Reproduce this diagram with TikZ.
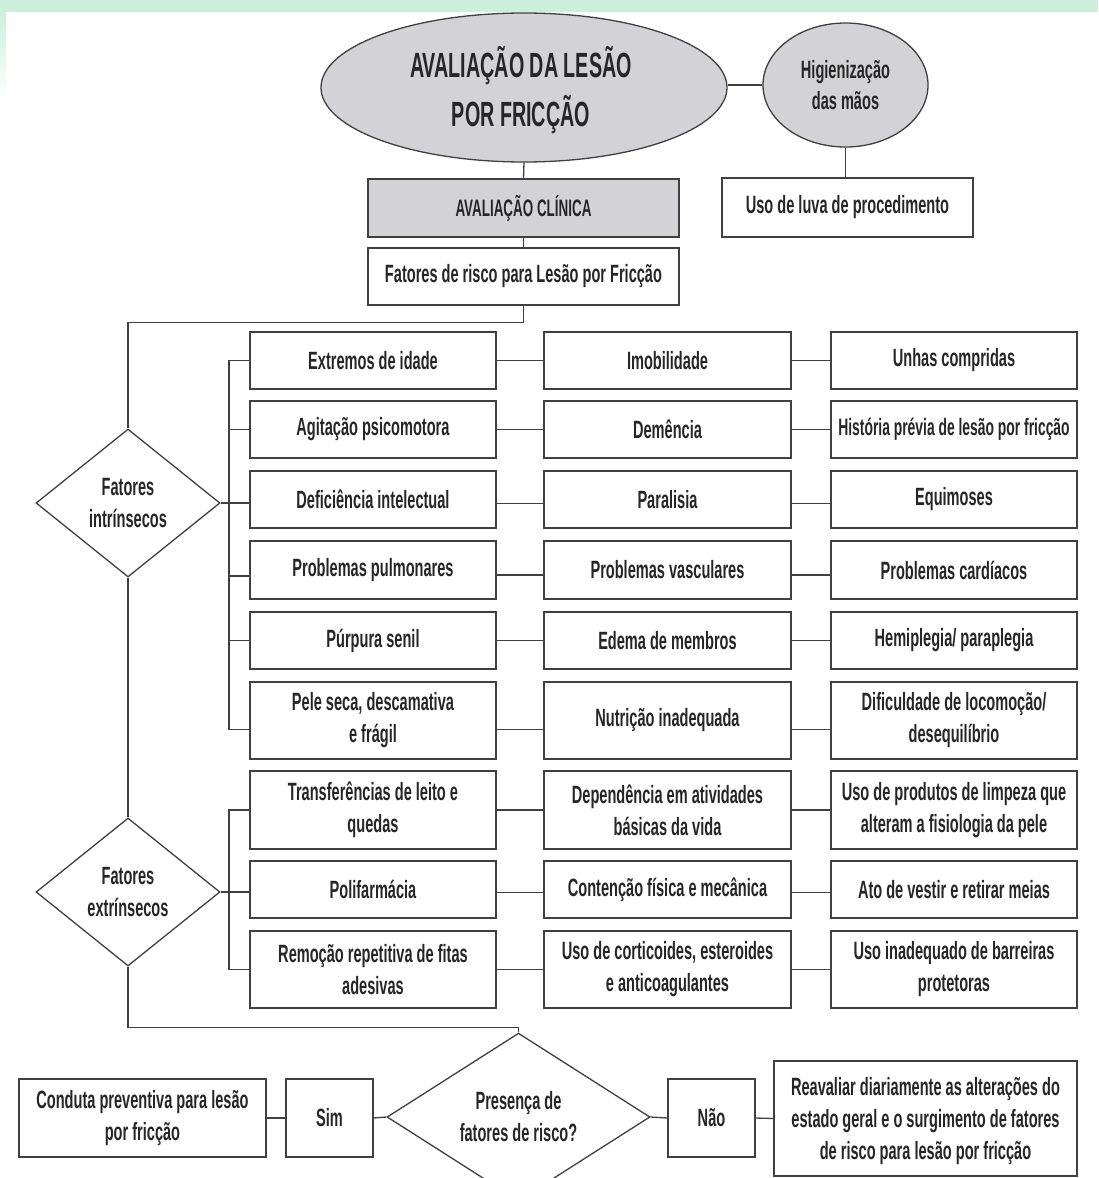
\documentclass[tikz,border=0pt]{standalone}
\usepackage{fontspec}
\setmainfont{Liberation Sans}[FakeStretch=0.583]
\newfontfamily\headfont{Liberation Sans}[FakeStretch=0.564]
\usetikzlibrary{shapes.geometric}
\definecolor{ink}{HTML}{262626}
\definecolor{edge}{HTML}{404040}
\definecolor{shade}{HTML}{D3D3D5}
\definecolor{mint}{HTML}{CCEFDC}

\begin{document}
\begin{tikzpicture}[x=1pt,y=-1pt,
  every node/.style={text=ink, font=\fontsize{25}{32}\selectfont\bfseries, align=center, inner sep=0pt},
  box/.style={draw=edge, line width=1.3pt, rectangle, fill=white},
  cell/.style={box, minimum width=246, minimum height=57},
  tallcell/.style={box, minimum width=246, minimum height=77},
  decision/.style={draw=edge, line width=1.3pt, diamond, fill=white},
  bubble/.style={draw=edge, line width=1.3pt, ellipse, fill=shade},
  link/.style={draw=edge, line width=1.3pt}
]
% page frame
\clip (0,0) rectangle (1098,1178);
\fill[white] (0,0) rectangle (1098,1178);
\fill[mint] (0,0) rectangle (1098,12);
\shade[top color=mint, bottom color=white] (0,12) rectangle (6,100);

% header
\node[bubble, minimum width=406, minimum height=149] (title) at (524,87.5) {};
\node[font=\headfont\fontsize{35}{49}\selectfont\bfseries] (titletext) at (521,90) {AVALIAÇÃO DA LESÃO\\POR FRICÇÃO};
\node[bubble, minimum width=165, minimum height=124, font=\fontsize{25}{31}\selectfont\bfseries] (hig) at (845.5,85) {Higienização\\das mãos};
\node[box, minimum width=251, minimum height=59] (luva) at (847.5,207.5) {Uso de luva de procedimento};
\node[box, fill=shade, minimum width=311, minimum height=58, font=\headfont\fontsize{23.8}{28}\selectfont\bfseries] (clinica) at (523.5,208) {AVALIAÇÃO CLÍNICA};
\node[box, minimum width=311, minimum height=57] (risco) at (523.5,276.5) {Fatores de risco para Lesão por Fricção};

% decisions
\node[decision, minimum width=184, minimum height=148] (intr) at (128,503) {Fatores\\intrínsecos};
\node[decision, minimum width=184, minimum height=148] (extr) at (128,892) {Fatores\\extrínsecos};
\node[decision, minimum width=263, minimum height=160] (pres) at (518.5,1117) {Presença de\\fatores de risco?};

% factor grid: column a
\node[cell] (a1) at (373,360.5) {Extremos de idade};
\node[cell] (a2) at (373,429.5) {Agitação psicomotora};
\node[cell] (a3) at (373,499.5) {Deficiência intelectual};
\node[cell, minimum height=58] (a4) at (373,570) {Problemas pulmonares};
\node[cell] (a5) at (373,640.5) {Púrpura senil};
\node[tallcell] (a6) at (373,720.5) {Pele seca, descamativa\\e frágil};
\node[tallcell, minimum height=78] (a7) at (373,810) {Transferências de leito e\\quedas};
\node[cell] (a8) at (373,889.5) {Polifarmácia};
\node[tallcell] (a9) at (373,969.5) {Remoção repetitiva de fitas\\adesivas};

% column b
\node[cell, minimum width=247] (b1) at (667.5,360.5) {Imobilidade};
\node[cell, minimum width=247] (b2) at (667.5,429.5) {Demência};
\node[cell, minimum width=247] (b3) at (667.5,499.5) {Paralisia};
\node[cell, minimum width=247, minimum height=58] (b4) at (667.5,570) {Problemas vasculares};
\node[cell, minimum width=247] (b5) at (667.5,640.5) {Edema de membros};
\node[tallcell, minimum width=247] (b6) at (667.5,720.5) {Nutrição inadequada};
\node[tallcell, minimum width=247, minimum height=78] (b7) at (667.5,810) {Dependência em atividades\\básicas da vida};
\node[cell, minimum width=247] (b8) at (667.5,889.5) {Contenção física e mecânica};
\node[tallcell, minimum width=247] (b9) at (667.5,969.5) {Uso de corticoides, esteroides\\e anticoagulantes};

% column c
\node[cell] (c1) at (954,360.5) {Unhas compridas};
\node[cell, font=\fontsize{23.8}{32}\selectfont\bfseries] (c2) at (954,429.5) {História prévia de lesão por fricção};
\node[cell] (c3) at (954,499.5) {Equimoses};
\node[cell, minimum height=58] (c4) at (954,570) {Problemas cardíacos};
\node[cell] (c5) at (954,640.5) {Hemiplegia/ paraplegia};
\node[tallcell] (c6) at (954,720.5) {Dificuldade de locomoção/\\desequilíbrio};
\node[tallcell, minimum height=78] (c7) at (954,810) {Uso de produtos de limpeza que\\alteram a fisiologia da pele};
\node[cell] (c8) at (954,889.5) {Ato de vestir e retirar meias};
\node[tallcell] (c9) at (954,969.5) {Uso inadequado de barreiras\\protetoras};

% outcome row
\node[box, minimum width=247, minimum height=78] (conduta) at (142.5,1118) {Conduta preventiva para lesão\\por fricção};
\node[box, minimum width=87, minimum height=78] (sim) at (329.5,1118) {Sim};
\node[box, minimum width=87, minimum height=78] (nao) at (711.5,1118) {Não};
\node[box, minimum width=303, minimum height=115] (reav) at (925.5,1118.5) {};
\node (reavtext) at (925.5,1121) {Reavaliar diariamente as alterações do\\estado geral e o surgimento de fatores\\de risco para lesão por fricção};

% bus lines and offset attachment points
\coordinate (busI) at (229,0);
\coordinate (busE) at (229,0);
\coordinate (a4w) at ([yshift=-6pt]a4.west);
\coordinate (a6w) at ([yshift=-9pt]a6.west);

% header connectors
\draw[link] (hig.west) -- (title.east |- hig.west);
\draw[link] (hig.south) -- (hig.south |- luva.north);
\draw[link] (title.south) -- (clinica.north);
\draw[link] (clinica.south) -- (risco.north);
\draw[link] (risco.south) -- ++(0,17) -| (intr.north);
\draw[link] (intr.south) -- (extr.north);
\draw[link] (extr.south) |- ([yshift=5pt]pres.north) -- (pres.north);

% intrinsic branch
\draw[link] (intr.east) -- (intr.east -| a3.west);
\draw[link] (a1.west) -| (busI |- a6w) -- (a6w);
\draw[link] (busI |- a2.west) -- (a2.west);
\draw[link] (busI |- a4w) -- (a4w);
\draw[link] (busI |- a5.west) -- (a5.west);

% extrinsic branch
\draw[link] (extr.east) -- (extr.east -| a8.west);
\draw[link] (a7.west) -| (busE |- a9.west) -- (a9.west);

% row connectors
\draw[link] (a1.east) -- (b1.west);  \draw[link] (b1.east) -- (c1.west);
\draw[link] (a2.east) -- (b2.west);  \draw[link] (b2.east) -- (c2.west);
\draw[link] ([yshift=-4pt]a3.east) -- ([yshift=-4pt]b3.west);  \draw[link] ([yshift=-4pt]b3.east) -- ([yshift=-4pt]c3.west);
\draw[link] ([yshift=-5pt]a4.east) -- ([yshift=-5pt]b4.west);  \draw[link] ([yshift=-5pt]b4.east) -- ([yshift=-5pt]c4.west);
\draw[link] (a5.east) -- (b5.west);  \draw[link] (b5.east) -- (c5.west);
\draw[link] ([yshift=-9pt]a6.east) -- ([yshift=-9pt]b6.west);  \draw[link] ([yshift=-9pt]b6.east) -- ([yshift=-9pt]c6.west);
\draw[link] (a7.east) -- (b7.west);  \draw[link] (b7.east) -- (c7.west);
\draw[link] ([yshift=-3pt]a8.east) -- ([yshift=-3pt]b8.west);  \draw[link] ([yshift=-3pt]b8.east) -- ([yshift=-3pt]c8.west);
\draw[link] (a9.east) -- (b9.west);  \draw[link] (b9.east) -- (c9.west);

% outcome connectors
\draw[link] (pres.west) -- (sim.east);
\draw[link] (sim.west) -- (conduta.east);
\draw[link] (pres.east) -- (nao.west);
\draw[link] (nao.east) -- (reav.west);
\end{tikzpicture}
\end{document}
